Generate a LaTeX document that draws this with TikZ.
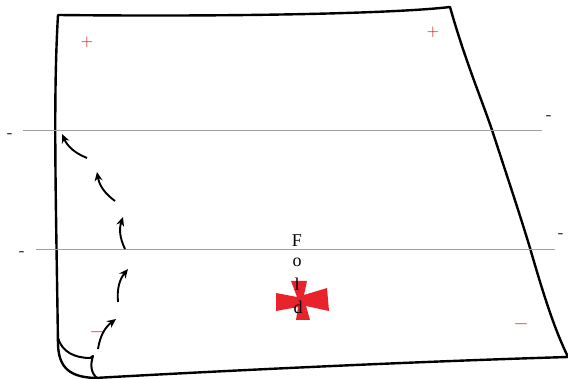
\documentclass[tikz,border=0pt]{standalone}
\usepackage{fontspec}
\usepackage{tikz}
\usetikzlibrary{arrows.meta}
\newfontfamily\foldfont{Liberation Serif}
\definecolor{crossred}{RGB}{232,35,43}

\begin{document}
\begin{tikzpicture}[
    x=1pt, y=-1pt,
    sheet/.style={line width=2.4pt, line join=round, line cap=round},
    crease/.style={line width=0.7pt, draw=gray!75},
    sign/.style={text=gray!50!black, font=\fontsize{15}{15}\selectfont\bfseries, inner sep=0pt},
    plus/.style={text=red!85!black, font=\fontsize{17}{17}\selectfont, inner sep=0pt},
    minus/.style={text=red!65, font=\fontsize{16}{16}\selectfont\boldmath, inner sep=0pt},
    flip/.style={line width=1.9pt, -{Stealth[length=9pt,width=8pt]}, bend left=22},
    letter/.style={font=\foldfont\fontsize{18}{18}\selectfont, inner sep=0pt}
]
\useasboundingbox (0,0) rectangle (568,379);

% Sheet outline
\draw[sheet] (58,15) .. controls (250,17) and (400,13) .. (450,7)
    .. controls (465,60) and (480,95) .. (492,130)
    .. controls (510,185) and (520,215) .. (530,248)
    .. controls (545,300) and (555,330) .. (568,357)
    .. controls (400,362) and (200,372) .. (95,378)
    .. controls (70,377) and (59,368) .. (58,345)
    .. controls (56,200) and (53,100) .. (58,15);
% Curled corner
\draw[sheet, line width=2pt] (58,338) .. controls (62,352) and (75,358) .. (90,358)
    -- (93,356) .. controls (90,365) and (91,373) .. (97,378);

% Crease lines
\coordinate (l1) at (23,130);
\coordinate (r1) at (542,130);
\coordinate (l2) at (36,249);
\coordinate (r2) at (555,249);
\draw[crease] (l1) -- (r1);
\draw[crease] (l2) -- (r2);

% Side marks
\node[sign] at (10,135) {-};
\node[sign] at (22,253) {-};
\node[sign] at (549,117) {-};
\node[sign] at (561,235) {-};

% Corner signs
\node[plus] at (87,42) {+};
\node[plus] at (433,32) {+};
\node[minus] at (97,332) {$-$};
\node[minus] at (521,324) {$-$};

% Flip arrows
\coordinate (t1) at (98,349);  \coordinate (h1) at (116,319);
\coordinate (t2) at (118,302); \coordinate (h2) at (128,269);
\coordinate (t3) at (125,249); \coordinate (h3) at (123,217);
\coordinate (t4) at (115,201); \coordinate (h4) at (97,172);
\coordinate (t5) at (87,158);  \coordinate (h5) at (62,134);
\foreach \i in {1,...,5}
    \draw[flip] (t\i) to (h\i);

% Red cross
\fill[crossred] (291,281) -- (307,281) -- (304,295) -- (327,288)
    -- (329,311) -- (306,306) -- (310,320) -- (296,320) -- (298,307)
    -- (276,311) -- (276,293) -- (297,297) -- cycle;

% Fold label
\node[letter] (f1) at (297,241) {F};
\node[letter] (f2) at (297,262) {o};
\node[letter] (f3) at (297,284) {l};
\node[letter] (f4) at (298,307) {d};

\end{tikzpicture}
\end{document}
